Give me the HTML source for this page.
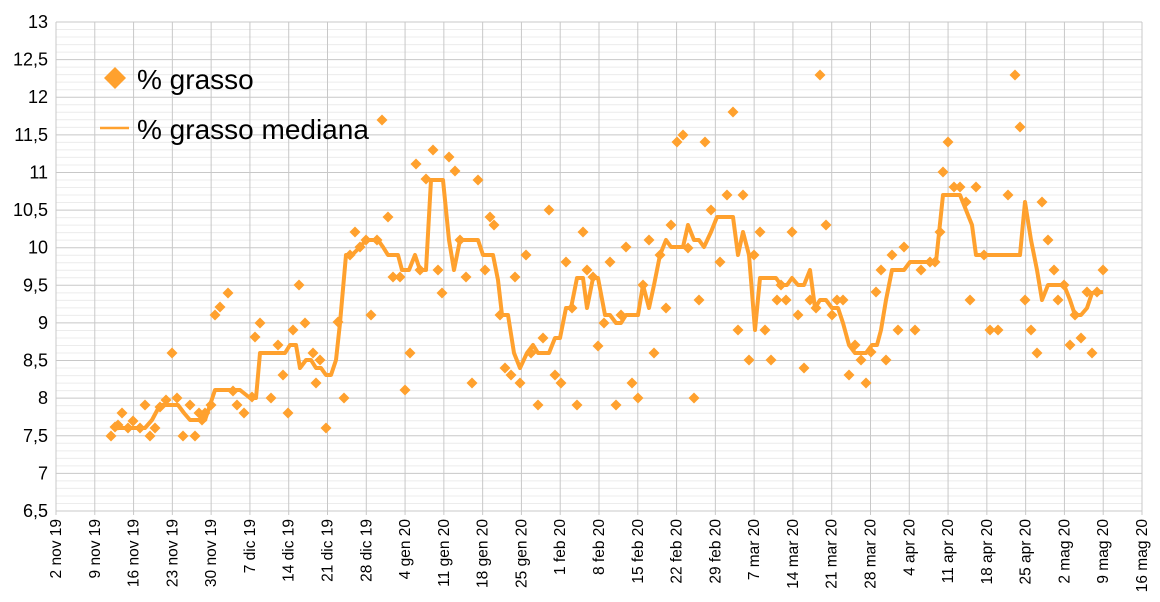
<!DOCTYPE html>
<html><head><meta charset="utf-8"><style>
html,body{margin:0;padding:0;background:#fff;}
svg{display:block;font-family:"Liberation Sans",sans-serif;}
</style></head><body>
<svg id="c" width="1160" height="602" viewBox="0 0 1160 602" xmlns="http://www.w3.org/2000/svg">
<g id="grid"></g>
<g id="lbl" font-size="17" fill="#000"></g>
<polyline id="med" fill="none" stroke="#ffa12e" stroke-width="4" stroke-linejoin="round"/>
<g id="pts" fill="#ffa12e"></g>
<path d="M115,67 L126,78 L115,89 L104,78 Z" fill="#ffa12e"/>
<text x="137" y="89" font-size="28">% grasso</text>
<line x1="100" y1="128" x2="129" y2="128" stroke="#ffa12e" stroke-width="2.5"/>
<text x="137" y="139" font-size="28">% grasso mediana</text>
</svg>
<script>
var NS="http://www.w3.org/2000/svg";
function el(t,a,p,txt){var e=document.createElementNS(NS,t);for(var k in a)e.setAttribute(k,a[k]);if(txt!=null)e.textContent=txt;document.getElementById(p).appendChild(e);return e;}
var L=56,R=1142,T=22,B=511;
for(var i=0;i<=65;i++){var y=T+(B-T)*i/65;if(i%5)el('line',{x1:L,x2:R,y1:y,y2:y,stroke:'#ececec','stroke-width':1},'grid');}
for(var i=0;i<=13;i++){var y=T+(B-T)*i/13;el('line',{x1:L,x2:R,y1:y,y2:y,stroke:'#c8c8c8','stroke-width':1},'grid');
var v=13-i*0.5;var s=(v%1?v.toFixed(1).replace('.',','):String(v));
el('text',{x:48,y:y+6,'text-anchor':'end','font-size':18},'lbl',s);}
var labs=["2 nov 19","9 nov 19","16 nov 19","23 nov 19","30 nov 19","7 dic 19","14 dic 19","21 dic 19","28 dic 19","4 gen 20","11 gen 20","18 gen 20","25 gen 20","1 feb 20","8 feb 20","15 feb 20","22 feb 20","29 feb 20","7 mar 20","14 mar 20","21 mar 20","28 mar 20","4 apr 20","11 apr 20","18 apr 20","25 apr 20","2 mag 20","9 mag 20","16 mag 20"];
for(var i=0;i<=28;i++){var x=L+(R-L)*i/28;el('line',{x1:x,x2:x,y1:T,y2:B+4,stroke:'#c8c8c8','stroke-width':1},'grid');
el('text',{x:0,y:0,'text-anchor':'end','font-size':15.5,transform:'translate('+(x+5)+','+(B+8)+') rotate(-90)'},'lbl',labs[i]);}
var P=[111,436,115,427,118,425,122,413,128,428,133,421,140,428,145,405,150,436,155,428,160,407,166,400,172,353,177,398,183,436,190,405,195,436,199,413,202,420,205,413,211,405,215,315,220,307,228,293,233,391,237,405,244,413,252,397,255,337,260,323,271,398,278,345,283,375,288,413,293,330,299,285,305,323,313,353,316,383,320,360,326,428,338,322,344,398,350,255,355,232,360,247,366,240,371,315,377,240,382,120,388,217,393,277,400,277,405,390,410,353,416,164,420,270,426,179,433,150,438,270,442,293,449,157,455,171,460,240,466,277,472,383,478,180,485,270,490,217,494,225,500,315,505,368,511,375,515,277,520,383,526,255,531,353,538,405,543,338,549,210,555,375,561,383,566,262,572,308,577,405,583,232,587,270,593,277,598,346,604,323,610,262,616,405,621,315,626,247,632,383,638,398,643,285,649,240,654,353,660,255,666,308,671,225,677,142,683,135,688,248,694,398,699,300,705,142,711,210,720,262,727,195,733,112,738,330,743,195,749,360,754,255,760,232,765,330,771,360,777,300,781,285,786,300,792,232,798,315,804,368,810,300,816,308,820,75,826,225,832,315,837,300,843,300,849,375,855,345,861,360,866,383,871,352,876,292,881,270,886,360,892,255,898,330,904,247,915,330,921,270,930,262,935,262,940,232,943,172,948,142,954,187,960,187,966,202,970,300,976,187,984,255,990,330,998,330,1008,195,1015,75,1020,127,1025,300,1031,330,1037,353,1042,202,1048,240,1054,270,1058,300,1064,285,1070,345,1075,315,1081,338,1087,292,1092,353,1097,292,1103,270];
for(var i=0;i<P.length;i+=2){var x=P[i],y=P[i+1];el('path',{d:'M'+x+','+(y-5.5)+'L'+(x+5.5)+','+y+'L'+x+','+(y+5.5)+'L'+(x-5.5)+','+y+'Z'},'pts');}
var M=[115,428,145,428,152,420,160,405,178,405,184,413,190,420,205,420,210,405,215,390,240,390,250,398,256,398,260,353,285,353,290,345,296,345,300,368,306,360,311,360,316,368,321,368,326,375,331,375,336,360,340,323,346,255,352,255,360,247,366,240,378,240,383,247,388,255,398,255,402,270,409,270,415,255,420,270,426,270,431,180,443,180,449,240,454,270,460,240,478,240,483,255,493,255,498,280,502,315,508,315,514,353,520,368,527,353,533,345,538,353,549,353,555,338,560,338,566,308,571,308,577,278,583,278,587,308,593,278,598,278,605,315,610,315,616,323,621,323,626,315,638,315,643,285,649,308,654,285,660,255,666,240,671,247,683,247,688,225,694,240,699,240,704,247,711,232,717,217,733,217,738,255,743,232,749,255,755,330,760,278,776,278,781,285,787,285,792,278,798,285,804,285,810,270,815,308,820,300,826,300,832,308,838,308,843,323,849,345,855,353,866,353,872,345,877,345,881,330,886,300,892,270,904,270,910,262,936,262,943,195,960,195,966,210,972,225,976,255,1020,255,1025,202,1031,240,1037,270,1042,300,1048,285,1064,285,1070,300,1075,315,1081,315,1087,308,1092,293,1103,292];
var s='';for(var i=0;i<M.length;i+=2)s+=M[i]+','+M[i+1]+' ';
document.getElementById('med').setAttribute('points',s);
</script>
</body></html>
